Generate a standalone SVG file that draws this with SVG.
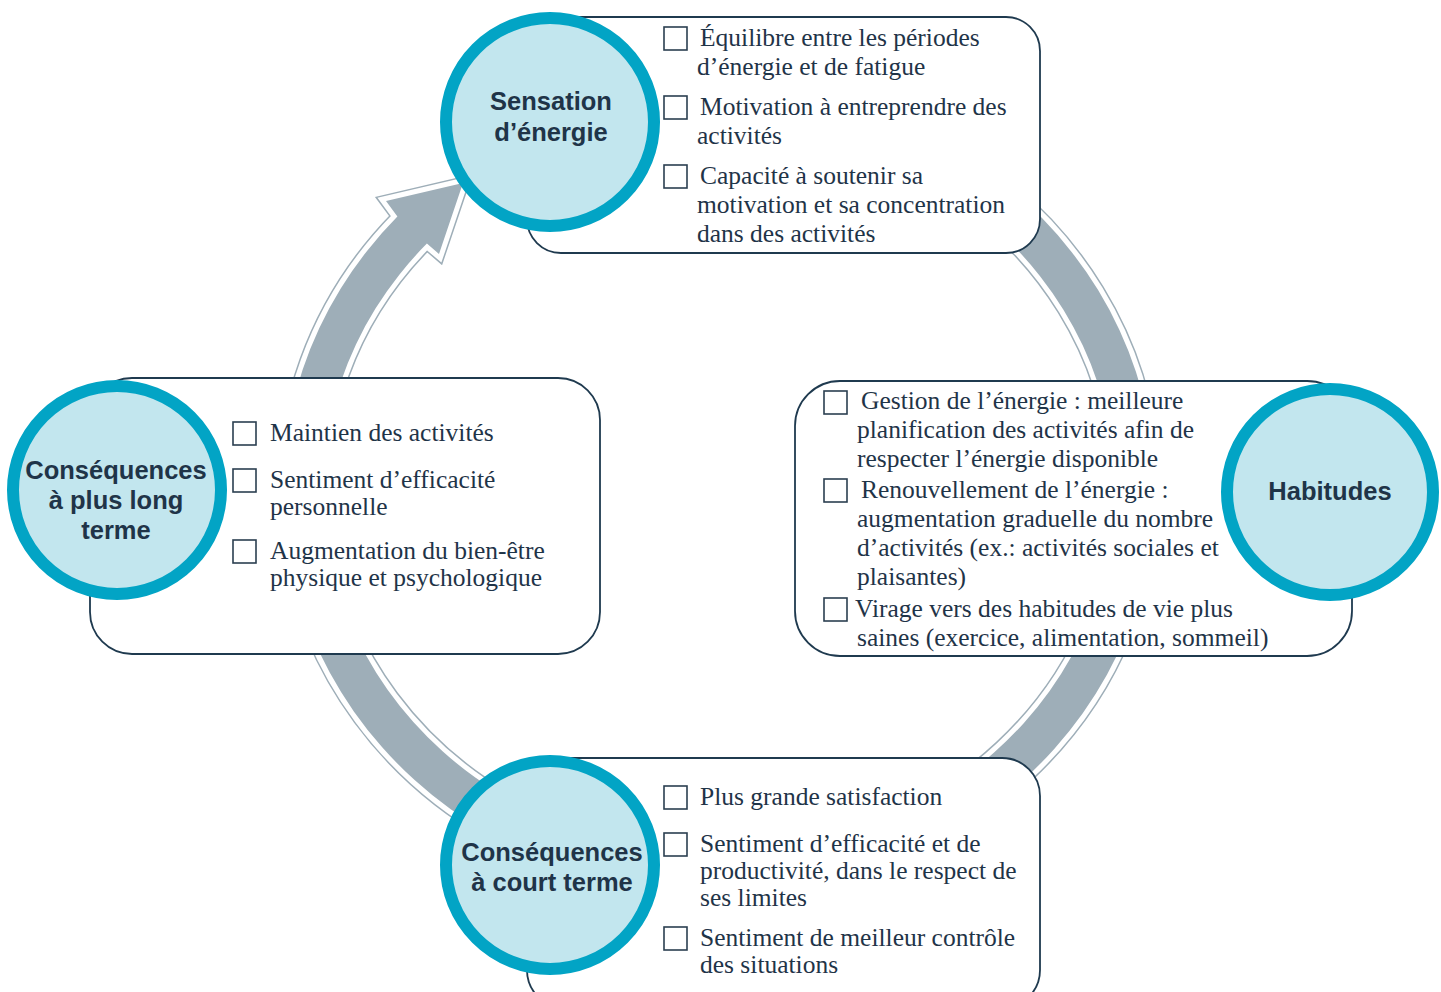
<svg xmlns="http://www.w3.org/2000/svg" width="1441" height="992" viewBox="0 0 1441 992">
<style>
.box{fill:#fff;stroke:#1f3a4f;stroke-width:1.8}
.circ{fill:#c2e6ee;stroke:#02a4c5;stroke-width:12}
.ct{font-family:"Liberation Sans",Arial,sans-serif;font-weight:bold;font-size:25.5px;fill:#1f3448;text-anchor:middle}
.t{font-family:"Liberation Serif","Times New Roman",serif;font-size:25.5px;fill:#1f3448}
.cb{fill:none;stroke:#2b3f50;stroke-width:1.6}
</style>
<defs>
<path id="ring" d="M794.7,91.2 A436,405 0 1 1 397.4,216.5 L386,201 L463,183 L439,254 L426.9,243.6 A396,365 0 1 0 787.8,130.5 Z"/>
</defs>
<rect width="1441" height="992" fill="#fff"/>
<g id="connectors">
<use href="#ring" fill="#9eaeb8" stroke="#9eaeb8" stroke-width="13" stroke-linejoin="miter" stroke-miterlimit="10"/>
<use href="#ring" fill="#fff" stroke="#fff" stroke-width="10" stroke-linejoin="miter" stroke-miterlimit="10"/>
<use href="#ring" fill="#9eaeb8"/>
</g>
<g id="node-sensation">
<rect class="box" x="527" y="17" width="513" height="236" rx="34"/>
<rect class="cb" x="664" y="27" width="23" height="23"/>
<rect class="cb" x="664" y="96" width="23" height="23"/>
<rect class="cb" x="664" y="165" width="23" height="23"/>
<text class="t" x="700" y="46">Équilibre entre les périodes</text>
<text class="t" x="697" y="75">d’énergie et de fatigue</text>
<text class="t" x="700" y="115">Motivation à entreprendre des</text>
<text class="t" x="697" y="144">activités</text>
<text class="t" x="700" y="184">Capacité à soutenir sa</text>
<text class="t" x="697" y="213">motivation et sa concentration</text>
<text class="t" x="697" y="242">dans des activités</text>
<circle class="circ" cx="550" cy="122" r="104"/>
<text class="ct" x="551" y="110">Sensation</text>
<text class="ct" x="551" y="141">d’énergie</text>
</g>
<g id="node-habitudes">
<rect class="box" x="795" y="381" width="557" height="275" rx="45"/>
<rect class="cb" x="824" y="391" width="23" height="23"/>
<rect class="cb" x="824" y="479" width="23" height="23"/>
<rect class="cb" x="824" y="598" width="23" height="23"/>
<text class="t" x="861" y="409">Gestion de l’énergie : meilleure</text>
<text class="t" x="857" y="438">planification des activités afin de</text>
<text class="t" x="857" y="467">respecter l’énergie disponible</text>
<text class="t" x="861" y="498">Renouvellement de l’énergie :</text>
<text class="t" x="857" y="527">augmentation graduelle du nombre</text>
<text class="t" x="857" y="556">d’activités (ex.: activités sociales et</text>
<text class="t" x="857" y="585">plaisantes)</text>
<text class="t" x="855" y="617">Virage vers des habitudes de vie plus</text>
<text class="t" x="857" y="646">saines (exercice, alimentation, sommeil)</text>
<circle class="circ" cx="1330" cy="492" r="103"/>
<text class="ct" x="1330" y="500">Habitudes</text>
</g>
<g id="node-court-terme">
<rect class="box" x="527" y="758" width="513" height="250" rx="38"/>
<rect class="cb" x="664" y="786" width="23" height="23"/>
<rect class="cb" x="664" y="833" width="23" height="23"/>
<rect class="cb" x="664" y="927" width="23" height="23"/>
<text class="t" x="700" y="805">Plus grande satisfaction</text>
<text class="t" x="700" y="852">Sentiment d’efficacité et de</text>
<text class="t" x="700" y="879">productivité, dans le respect de</text>
<text class="t" x="700" y="906">ses limites</text>
<text class="t" x="700" y="946">Sentiment de meilleur contrôle</text>
<text class="t" x="700" y="973">des situations</text>
<circle class="circ" cx="550" cy="865" r="104"/>
<text class="ct" x="552" y="861">Conséquences</text>
<text class="ct" x="552" y="891">à court terme</text>
</g>
<g id="node-long-terme">
<rect class="box" x="90" y="378" width="510" height="276" rx="42"/>
<rect class="cb" x="233" y="422" width="23" height="23"/>
<rect class="cb" x="233" y="469" width="23" height="23"/>
<rect class="cb" x="233" y="540" width="23" height="23"/>
<text class="t" x="270" y="441">Maintien des activités</text>
<text class="t" x="270" y="488">Sentiment d’efficacité</text>
<text class="t" x="270" y="515">personnelle</text>
<text class="t" x="270" y="559">Augmentation du bien-être</text>
<text class="t" x="270" y="586">physique et psychologique</text>
<circle class="circ" cx="117" cy="490" r="104"/>
<text class="ct" x="116" y="479">Conséquences</text>
<text class="ct" x="116" y="509">à plus long</text>
<text class="ct" x="116" y="539">terme</text>
</g>
</svg>
